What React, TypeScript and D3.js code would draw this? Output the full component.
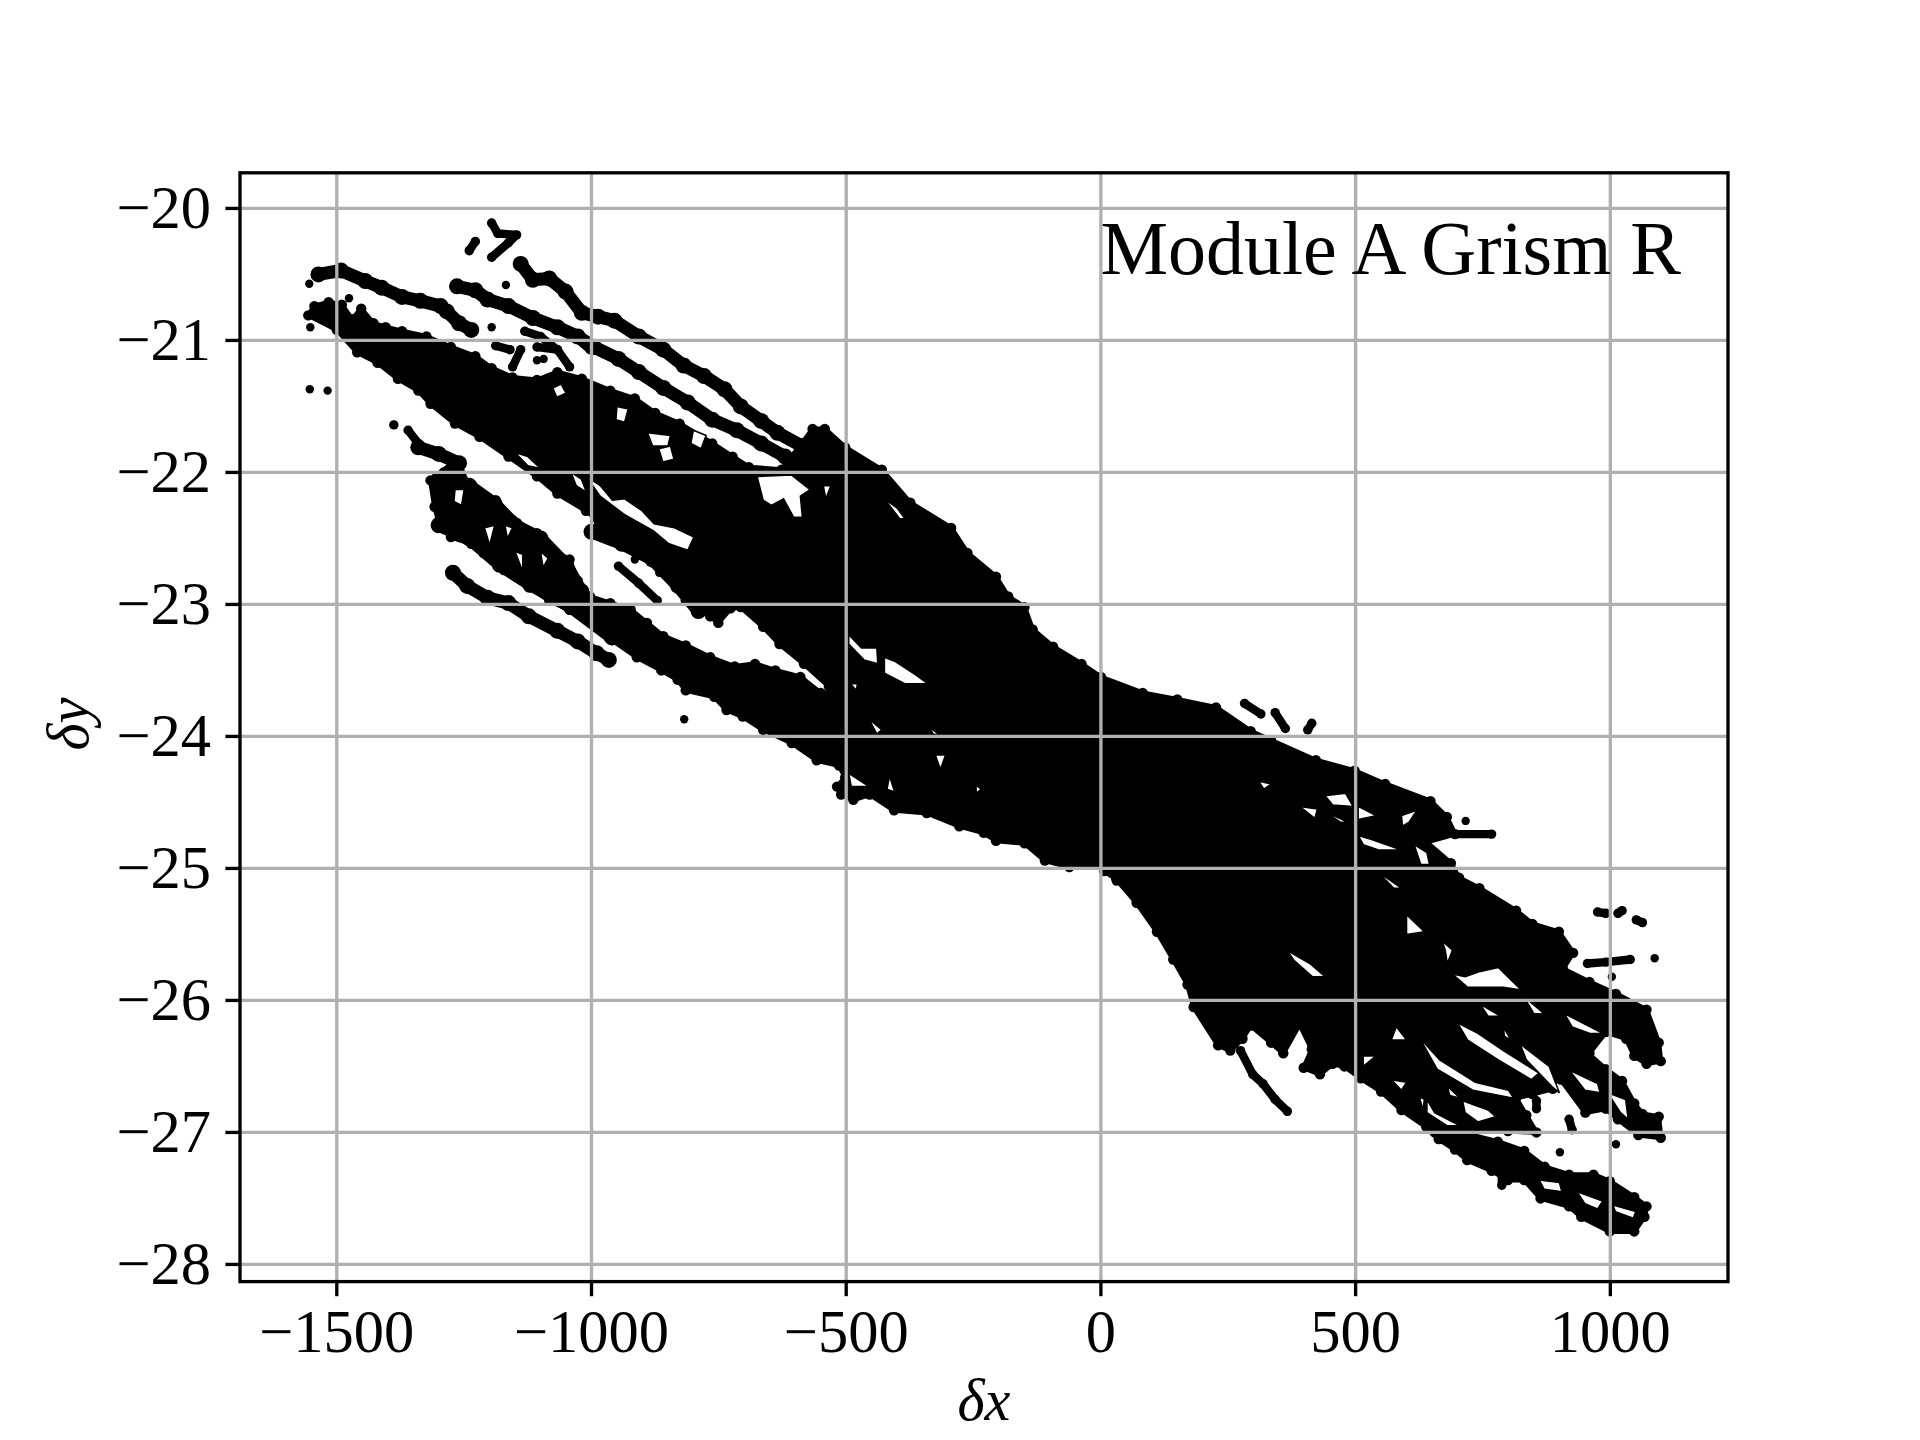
import React from 'react';
import * as d3 from 'd3';

type P = [number, number];

const xTicks = [-1500, -1000, -500, 0, 500, 1000];
const yTicks = [-20, -21, -22, -23, -24, -25, -26, -27, -28];
const xDomain: P = [-1690, 1231];
const yDomain: P = [-19.73, -28.13];
const title = 'Module A Grism R';

// Dense cloud outlines (δx, δy)
const mainCloud: P[] = [
  [-1556,-20.81],[-1544,-20.74],[-1516,-20.71],[-1490,-20.73],[-1470,-20.84],[-1452,-20.76],[-1428,-20.87],[-1404,-20.9],[-1372,-20.93],[-1324,-20.97],[-1276,-21.05],[-1228,-21.12],[-1196,-21.21],[-1155,-21.28],[-1107,-21.3],[-1067,-21.24],[-1019,-21.29],[-963,-21.38],[-915,-21.44],[-875,-21.55],[-827,-21.63],[-763,-21.78],[-723,-21.88],[-691,-21.96],[-627,-21.98],[-587,-21.78],
  [-566,-21.67],[-542,-21.67],[-502,-21.81],[-430,-21.98],[-374,-22.23],[-294,-22.42],[-262,-22.61],[-206,-22.79],[-182,-22.94],[-150,-23.02],[-134,-23.19],[-94,-23.32],[-38,-23.45],[0,-23.55],[82,-23.67],[150,-23.72],[226,-23.78],[294,-23.96],[334,-24.03],[422,-24.18],[498,-24.26],[558,-24.36],[647,-24.49],[679,-24.61],[695,-24.74],[639,-24.8],[687,-24.96],[703,-25.07],[743,-25.15],[815,-25.32],[847,-25.42],[899,-25.48],[927,-25.64],[907,-25.76],[959,-25.86],[1011,-25.95],[1071,-26.07],[1095,-26.32],[1099,-26.46],[1071,-26.48],[1047,-26.42],[1031,-26.29],[991,-26.24],[959,-26.4],[935,-26.42],[903,-26.45],[887,-26.67],[847,-26.71],[815,-26.74],[835,-26.87],[855,-27],[799,-26.99],[663,-27],
  [639,-26.96],[590,-26.83],[550,-26.69],[510,-26.59],[478,-26.5],[455,-26.48],[430,-26.56],[398,-26.51],[414,-26.37],[390,-26.18],[358,-26.4],[334,-26.32],[294,-26.19],[278,-26.29],[254,-26.38],[230,-26.34],[182,-26.05],[170,-25.88],[142,-25.69],[110,-25.48],[70,-25.26],[30,-25.08],[6,-25.02],[0,-24.97],[-62,-24.99],[-110,-24.94],[-150,-24.81],[-206,-24.79],[-230,-24.73],[-278,-24.68],[-342,-24.58],[-406,-24.56],[-454,-24.44],[-486,-24.48],[-510,-24.44],[-518,-24.38],[-502,-24.31],[-514,-24.22],[-558,-24.18],[-607,-24.05],[-663,-23.95],[-703,-23.85],[-735,-23.8],[-759,-23.7],[-815,-23.65],[-831,-23.57],[-863,-23.5],[-911,-23.4],[-959,-23.27],[-1003,-23.09],[-1043,-23.04],[-1083,-22.97],[-1123,-22.87],[-1147,-22.79],[-1172,-22.74],[-1212,-22.61],[-1236,-22.54],[-1276,-22.49],[-1300,-22.37],[-1308,-22.26],[-1316,-22.06],[-1290,-22.0],[-1260,-21.93],[-1244,-22.08],[-1228,-22.16],[-1188,-22.21],[-1155,-22.36],[-1107,-22.46],[-1083,-22.58],[-1043,-22.66],[-1027,-22.82],[-1003,-22.94],[-963,-22.99],[-923,-23.04],[-891,-23.14],[-859,-23.24],[-815,-23.31],[-767,-23.4],[-719,-23.47],[-679,-23.45],[-639,-23.5],[-590,-23.55],[-550,-23.67],[-502,-23.67],[-534,-23.62],[-583,-23.45],[-631,-23.3],[-663,-23.17],[-707,-23.02],[-727,-23.03],[-751,-23.14],[-767,-23.09],[-791,-23.02],[-815,-22.97],[-839,-22.82],[-863,-22.69],[-903,-22.61],[-939,-22.5],[-987,-22.36],[-1011,-22.29],[-1067,-22.16],[-1107,-22.03],[-1163,-21.88],[-1220,-21.73],[-1268,-21.63],[-1316,-21.48],[-1340,-21.38],[-1380,-21.29],[-1420,-21.17],[-1460,-21.09],[-1500,-20.92],
];
const rightCloud: P[] = [
  [935,-26.33],[991,-26.52],[1023,-26.61],[1047,-26.78],[1063,-26.86],[1095,-26.88],[1099,-27.04],[1055,-27.02],[1015,-26.9],[991,-26.82],[951,-26.85],[903,-26.6],[879,-26.55],
];
const bottomCloud: P[] = [
  [655,-27],[707,-27],[779,-27.07],[831,-27.14],[871,-27.26],[919,-27.32],[967,-27.32],[999,-27.37],[1047,-27.49],[1071,-27.56],[1067,-27.64],[1047,-27.75],[999,-27.75],[943,-27.64],[919,-27.56],[863,-27.5],[831,-27.36],[799,-27.36],[767,-27.29],[719,-27.21],[695,-27.13],[663,-27.05],
];

// Broad stripes of points
const stripeTopLeft: P[] = [[-1536,-20.5],[-1492,-20.47],[-1444,-20.55],[-1412,-20.6],[-1372,-20.67],[-1336,-20.7],[-1296,-20.74],[-1284,-20.78],[-1260,-20.87],[-1236,-20.92]];
const stripeSecond: P[] = [[-1264,-20.59],[-1228,-20.62],[-1204,-20.69],[-1163,-20.74],[-1115,-20.83],[-1067,-20.9],[-1027,-20.97],[-995,-21.05],[-947,-21.14],[-907,-21.24],[-859,-21.36],[-811,-21.47],[-763,-21.6],[-715,-21.68],[-667,-21.78],[-620,-21.88]];
const stripeUpper: P[] = [[-1139,-20.42],[-1115,-20.54],[-1083,-20.53],[-1051,-20.63],[-1019,-20.79],[-987,-20.82],[-955,-20.85],[-907,-20.97],[-859,-21.07],[-819,-21.19],[-779,-21.27],[-739,-21.37],[-707,-21.5],[-667,-21.61],[-635,-21.7],[-587,-21.8]];
const stripeLow: P[] = [[-1272,-22.76],[-1244,-22.86],[-1204,-22.95],[-1163,-22.99],[-1123,-23.09],[-1067,-23.2],[-1027,-23.28],[-990,-23.37],[-966,-23.42]];
const stripeTail: P[] = [[-1340,-21.81],[-1300,-21.86],[-1260,-21.93],[-1300,-22.05],[-1290,-22.3]];
const stripeLacy: P[] = [[-1240,-22.1],[-1190,-22.24],[-1150,-22.4],[-1100,-22.5],[-1050,-22.7],[-1020,-22.9]];
const stripeLacyLow: P[] = [[-1300,-22.4],[-1240,-22.5],[-1180,-22.7],[-1120,-22.85],[-1040,-23.02],[-960,-23.25]];
const stripeBandTop: P[] = [[-960,-23.1],[-880,-23.25],[-810,-23.38],[-730,-23.52],[-650,-23.56],[-590,-23.6]];
const stripeLeftLower: P[] = [[-1000,-22.45],[-940,-22.54],[-880,-22.66],[-830,-22.86],[-790,-23.05]];

// Short runs of points
const stubTip: P[] = [[-1196,-20.11],[-1184,-20.19],[-1147,-20.2],[-1163,-20.26],[-1196,-20.37]];
const stubRightEnd: P[] = [[695,-24.74],[767,-24.74]];
const stubDangling: P[] = [[274,-26.38],[298,-26.56],[318,-26.63],[342,-26.75],[366,-26.84]];
const stubAbove: P[] = [[282,-23.75],[314,-23.83]];
const stubAbove2: P[] = [[342,-23.82],[362,-23.94]];
const stubAbove3: P[] = [[414,-23.9],[406,-23.95]];
const stubA: P[] = [[-947,-22.71],[-907,-22.84],[-871,-22.97]];
const stubB: P[] = [[-987,-22.41],[-939,-22.5]];
const stubC: P[] = [[-1188,-21.04],[-1160,-21.07]];
const stubD: P[] = [[-1139,-21.07],[-1155,-21.2]];
const stubE: P[] = [[-1131,-20.93],[-1100,-20.97],[-1067,-21.07],[-1043,-21.2]];
const stubF: P[] = [[-1107,-21.05],[-1067,-21.07]];
const stubG: P[] = [[-1067,-20.9],[-1030,-20.98],[-1003,-21.07]];
const stubH: P[] = [[955,-25.72],[991,-25.71],[1039,-25.69]];
const stubI: P[] = [[975,-25.33],[991,-25.34]];
const stubJ: P[] = [[1015,-25.34],[1023,-25.32]];
const stubK: P[] = [[1051,-25.39],[1063,-25.41]];
const stubL: P[] = [[855,-26.76],[855,-26.82]];
const stubM: P[] = [[919,-26.9],[925,-26.98]];
const stubN: P[] = [[787,-27.25],[787,-27.4]];
const stubO: P[] = [[-1228,-20.25],[-1240,-20.32]];
const stubP: P[] = [[-843,-22.79],[-811,-22.89]];
const stubQ: P[] = [[-1388,-21.64]];
const stubR: P[] = [[-1360,-21.68],[-1340,-21.78]];
const stubS: P[] = [[-1500,-20.78],[-1530,-20.78]];

// Isolated points
const loosePoints: P[] = [[-1553,-21.37],[-1518,-21.38],[-1552,-20.9],[-1476,-20.68],[-1196,-20.9],[-1168,-20.58],[-1107,-21.15],[-1094,-21.14],[-1293,-22.25],[-915,-22.66],[-867,-22.76],[-818,-23.87],[30,-25.1],[716,-24.64],[1087,-25.68],[1003,-25.82],[901,-27.15],[1011,-27.09],[1067,-27.64],[1055,-27.02],[-1554,-20.57]];

// White gaps left inside the cloud
const gaps: P[][] = [
  [[-1076,-21.36],[-1060,-21.33],[-1050,-21.4],[-1068,-21.43]],
  [[-950,-21.5],[-928,-21.52],[-935,-21.62],[-952,-21.6]],
  [[-890,-21.7],[-845,-21.72],[-850,-21.8],[-880,-21.8]],
  [[-868,-21.82],[-845,-21.8],[-838,-21.9],[-860,-21.92]],
  [[-800,-21.68],[-775,-21.72],[-785,-21.82],[-805,-21.78]],
  [[-1150,-21.85],[-1125,-21.88],[-1100,-21.97],[-1125,-21.95]],
  [[-1040,-22],[-1020,-22.05],[-1010,-22.15],[-1030,-22.1]],
  [[-1010,-22.03],[-983,-22.1],[-959,-22.21],[-935,-22.2],[-901,-22.29],[-877,-22.39],[-837,-22.42],[-799,-22.49],[-811,-22.59],[-848,-22.54],[-879,-22.44],[-935,-22.32],[-983,-22.18]],
  [[-675,-22.03],[-607,-22.02],[-571,-22.13],[-590,-22.18],[-586,-22.34],[-603,-22.34],[-623,-22.2],[-647,-22.25],[-663,-22.21]],
  [[-545,-22.1],[-530,-22.1],[-540,-22.2]],
  [[-425,-22.2],[-400,-22.27],[-385,-22.35],[-395,-22.35]],
  [[-1268,-22.13],[-1250,-22.13],[-1255,-22.25],[-1270,-22.22]],
  [[-1210,-22.42],[-1190,-22.4],[-1200,-22.55]],
  [[-1150,-22.6],[-1135,-22.62],[-1135,-22.75]],
  [[-1100,-22.6],[-1085,-22.65],[-1095,-22.72]],
  [[-1170,-22.4],[-1155,-22.42],[-1165,-22.5]],
  [[-495,-23.23],[-470,-23.33],[-440,-23.33],[-438,-23.45],[-465,-23.42],[-495,-23.3]],
  [[-425,-23.4],[-405,-23.43],[-365,-23.53],[-340,-23.6],[-385,-23.6],[-425,-23.52]],
  [[-492,-23.6],[-478,-23.6],[-480,-23.65]],
  [[-455,-23.87],[-430,-23.95],[-440,-23.98]],
  [[-335,-23.93],[-315,-24],[-330,-23.98]],
  [[-325,-24.14],[-305,-24.14],[-315,-24.25]],
  [[-245,-24.37],[-235,-24.4],[-245,-24.43]],
  [[-415,-24.3],[-405,-24.42],[-420,-24.4]],
  [[-495,-24.28],[-455,-24.38],[-490,-24.38]],
  [[310,-24.34],[335,-24.36],[320,-24.4]],
  [[390,-24.53],[425,-24.55],[420,-24.62]],
  [[440,-24.45],[480,-24.43],[495,-24.53],[455,-24.52]],
  [[505,-24.53],[540,-24.6],[505,-24.63]],
  [[440,-24.57],[485,-24.65],[470,-24.65]],
  [[505,-24.75],[530,-24.78],[590,-24.86],[545,-24.86],[515,-24.82]],
  [[590,-24.6],[620,-24.56],[605,-24.65],[592,-24.68]],
  [[615,-24.82],[640,-24.88],[645,-24.97],[628,-24.97]],
  [[545,-25.03],[590,-25.15],[575,-25.15]],
  [[600,-25.35],[635,-25.48],[600,-25.5]],
  [[670,-25.55],[690,-25.62],[680,-25.72],[676,-25.62]],
  [[690,-25.8],[715,-25.82],[745,-25.78],[780,-25.75],[825,-25.92],[790,-25.9],[720,-25.9]],
  [[365,-25.62],[410,-25.72],[440,-25.82],[415,-25.82],[380,-25.7]],
  [[515,-26.42],[540,-26.42],[515,-26.5]],
  [[580,-26.2],[600,-26.3],[570,-26.3]],
  [[570,-26.6],[600,-26.62],[590,-26.68]],
  [[625,-26.73],[635,-26.75],[632,-26.83]],
  [[625,-26.28],[665,-26.45],[735,-26.62],[800,-26.68],[810,-26.74],[730,-26.68],[660,-26.52]],
  [[700,-26.17],[740,-26.25],[790,-26.38],[860,-26.55],[845,-26.6],[780,-26.45],[720,-26.3]],
  [[823,-26.33],[880,-26.5],[900,-26.7],[885,-26.65],[835,-26.45]],
  [[680,-26.65],[705,-26.74],[685,-26.72]],
  [[710,-26.76],[760,-26.83],[775,-26.88],[740,-26.92],[715,-26.85]],
  [[640,-26.75],[655,-26.85],[705,-26.95],[680,-26.95],[640,-26.85]],
  [[910,-26.1],[945,-26.17],[985,-26.25],[960,-26.25],[925,-26.2]],
  [[830,-25.97],[870,-26.1],[850,-26.1]],
  [[745,-26.03],[785,-26.12],[760,-26.12]],
  [[790,-26.2],[805,-26.3],[792,-26.27]],
  [[920,-26.53],[975,-26.63],[980,-26.7],[950,-26.68]],
  [[995,-26.7],[1030,-26.75],[1035,-26.9],[1020,-26.85]],
  [[860,-27.36],[900,-27.38],[905,-27.45],[870,-27.43]],
  [[935,-27.45],[985,-27.52],[975,-27.58],[950,-27.54]],
  [[1005,-27.55],[1050,-27.6],[1045,-27.65],[1010,-27.6]],
];

const clouds = [mainCloud, rightCloud, bottomCloud];
const broad = [stripeTopLeft, stripeSecond, stripeUpper, stripeLow, stripeTail, stripeLacy, stripeLacyLow, stripeBandTop, stripeLeftLower];
const stubs = [stubTip, stubRightEnd, stubDangling, stubAbove, stubAbove2, stubAbove3, stubA, stubB, stubC, stubD, stubE, stubF, stubG, stubH, stubI, stubJ, stubK, stubL, stubM, stubN, stubO, stubP, stubQ, stubR, stubS];

const L = 240, R = 1728, T = 172.8, B = 1281.6;
const serif = '"Liberation Serif", serif';
const GRID = '#b0b0b0';
const LW = 3.33;
const DOT = 4.2;

export default function App() {
  const x = d3.scaleLinear().domain(xDomain).range([L, R]);
  const y = d3.scaleLinear().domain(yDomain).range([T, B]);
  const line = d3.line<P>().x(d => x(d[0])).y(d => y(d[1]));
  const minus = (v: number) => String(v).replace('-', '\u2212');
  return (
    <svg width={1920} height={1440} style={{ position: 'absolute', left: 0, top: 0, background: '#fff' }}>
      {clouds.map((c, i) => <path key={i} d={line(c) + 'Z'} fill="#000" stroke="#000" strokeWidth={5} strokeLinejoin="round" />)}
      {clouds.flat().map((p, i) => <circle key={i} cx={x(p[0])} cy={y(p[1])} r={DOT + 1} fill="#000" />)}
      {broad.map((s, i) => <path key={i} d={line(s) || ''} fill="none" stroke="#000" strokeWidth={13} strokeLinecap="round" strokeLinejoin="round" />)}
      {broad.flat().map((p, i) => <circle key={i} cx={x(p[0])} cy={y(p[1])} r={8} fill="#000" />)}
      {gaps.map((g, i) => <path key={i} d={line(g) + 'Z'} fill="#fff" stroke="#000" strokeWidth={1.5} />)}
      {stubs.map((s, i) => <path key={i} d={line(s) || ''} fill="none" stroke="#000" strokeWidth={DOT * 2} strokeLinecap="round" strokeLinejoin="round" />)}
      {stubs.flat().map((p, i) => <circle key={i} cx={x(p[0])} cy={y(p[1])} r={DOT + 0.5} fill="#000" />)}
      {loosePoints.map((p, i) => <circle key={i} cx={x(p[0])} cy={y(p[1])} r={DOT} fill="#000" />)}

      {xTicks.map(t => <line key={t} x1={x(t)} x2={x(t)} y1={T} y2={B} stroke={GRID} strokeWidth={LW} />)}
      {yTicks.map(t => <line key={t} x1={L} x2={R} y1={y(t)} y2={y(t)} stroke={GRID} strokeWidth={LW} />)}
      <rect x={L} y={T} width={R - L} height={B - T} fill="none" stroke="#000" strokeWidth={LW} />

      {xTicks.map(t => <line key={t} x1={x(t)} x2={x(t)} y1={B} y2={B + 14.6} stroke="#000" strokeWidth={LW} />)}
      {yTicks.map(t => <line key={t} x1={L - 14.6} x2={L} y1={y(t)} y2={y(t)} stroke="#000" strokeWidth={LW} />)}

      <g fontFamily={serif} fontSize={60.5} fill="#000">
        {xTicks.map(t => <text key={t} x={x(t)} y={1352} textAnchor="middle">{minus(t)}</text>)}
        {yTicks.map(t => <text key={t} x={L - 29} y={y(t) + 20} textAnchor="end">{minus(t)}</text>)}
        <text x={984} y={1420} textAnchor="middle" fontStyle="italic" fontSize={58.3}>δx</text>
        <text transform="translate(88,724) rotate(-90)" textAnchor="middle" fontStyle="italic" fontSize={58.3}>δy</text>
      </g>
      <text x={1681} y={274} textAnchor="end" fontFamily={serif} fontSize={76} fill="#000">{title}</text>
    </svg>
  );
}
